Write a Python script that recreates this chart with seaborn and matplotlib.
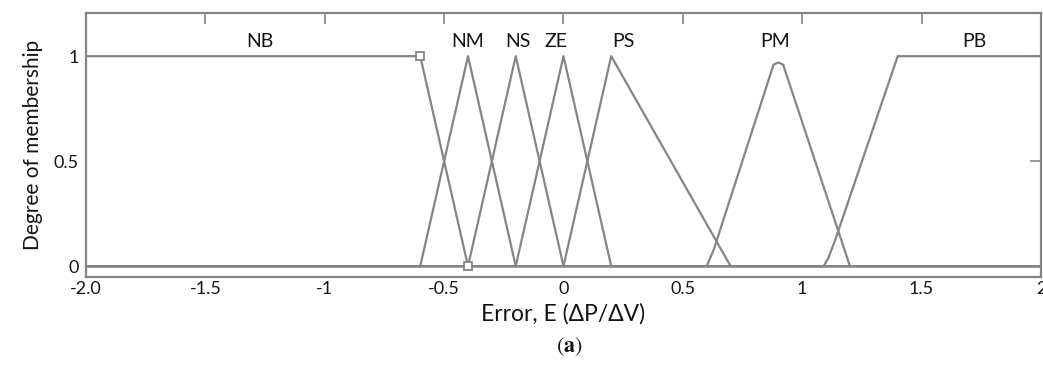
import matplotlib
matplotlib.use("Agg")
import matplotlib.pyplot as plt
import numpy as np
import pandas as pd
import seaborn as sns

sns.set_theme(style="white")
plt.rcParams["font.family"] = ["Lato", "DejaVu Sans"]
plt.rcParams["mathtext.fontset"] = "stix"

# Membership function vertices over the universe of discourse [-2, 2]
mf_names = ["NB", "NM", "NS", "ZE", "PS", "PM", "PB"]
nb_x = [-2.0, -0.6, -0.4, 2.0]
nb_y = [1.0, 1.0, 0.0, 0.0]
nm_x = [-2.0, -0.6, -0.4, -0.2, 2.0]
nm_y = [0.0, 0.0, 1.0, 0.0, 0.0]
ns_x = [-2.0, -0.4, -0.2, 0.0, 2.0]
ns_y = [0.0, 0.0, 1.0, 0.0, 0.0]
ze_x = [-2.0, -0.2, 0.0, 0.2, 2.0]
ze_y = [0.0, 0.0, 1.0, 0.0, 0.0]
ps_x = [-2.0, 0.0, 0.2, 0.7, 2.0]
ps_y = [0.0, 0.0, 1.0, 0.0, 0.0]
pm_x = [-2.0, 0.6, 0.63, 0.88, 0.9, 0.92, 1.2, 2.0]
pm_y = [0.0, 0.0, 0.08, 0.96, 0.97, 0.96, 0.0, 0.0]
pb_x = [-2.0, 1.09, 1.11, 1.14, 1.4, 2.0]
pb_y = [0.0, 0.0, 0.04, 0.13, 1.0, 1.0]

# Label positions for each set
label_x = [-1.27, -0.40, -0.19, -0.03, 0.25, 0.887, 1.72]
label_y = 1.07

# Selected vertices shown with open square handles
handle_x = [-0.6, -0.4]
handle_y = [1.0, 0.0]

xticks = [-2.0, -1.5, -1.0, -0.5, 0.0, 0.5, 1.0, 1.5, 2.0]
xtick_labels = ["-2.0", "-1.5", "-1", "-0.5", "0", "0.5", "1", "1.5", "2"]
yticks = [0.0, 0.5, 1.0]
ytick_labels = ["0", "0.5", "1"]

all_x = [nb_x, nm_x, ns_x, ze_x, ps_x, pm_x, pb_x]
all_y = [nb_y, nm_y, ns_y, ze_y, ps_y, pm_y, pb_y]
frames = []
for name, xs, ys in zip(mf_names, all_x, all_y):
    frames.append(pd.DataFrame({"mf": name, "x": xs, "y": ys}))
df = pd.concat(frames, ignore_index=True)

grey = "#858585"
ink = "#141414"
fig = plt.figure(figsize=(10.43, 3.65), dpi=100)
ax = fig.add_axes([0.0825, 0.241, 0.9155, 0.723])

sns.lineplot(data=df, x="x", y="y", units="mf", estimator=None, sort=False,
             color=grey, linewidth=1.6, ax=ax, legend=False)
ax.plot(handle_x, handle_y, linestyle="none", marker="s", markersize=6,
        markerfacecolor="white", markeredgecolor=grey, markeredgewidth=1.3)

for name, lx in zip(mf_names, label_x):
    ax.text(lx, label_y, name, ha="center", va="center", fontsize=14, color=ink)

ax.set_xlim(-2.0, 2.0)
ax.set_ylim(-0.052, 1.205)
ax.set_xticks(xticks)
ax.set_xticklabels(xtick_labels)
ax.set_yticks(yticks)
ax.set_yticklabels(ytick_labels)
ax.tick_params(axis="both", direction="in", length=8, width=1.2, color=grey,
               labelsize=13, labelcolor=ink, top=True, right=True, pad=3)
ax.tick_params(axis="y", pad=5)
for s in ax.spines.values():
    s.set_color(grey)
    s.set_linewidth(1.6)
    s.set_visible(True)

ax.set_xlabel("Error, E (ΔP/ΔV)", fontsize=16.5, color=ink, labelpad=4)
ax.set_ylabel("Degree of membership", fontsize=15, color=ink, labelpad=8)
ax.grid(False)

fig.text(0.546, 0.05, r"$(\mathbf{a})$", ha="center", va="center", fontsize=16, color=ink)

fig.savefig("out.png", dpi=100, facecolor="white")
